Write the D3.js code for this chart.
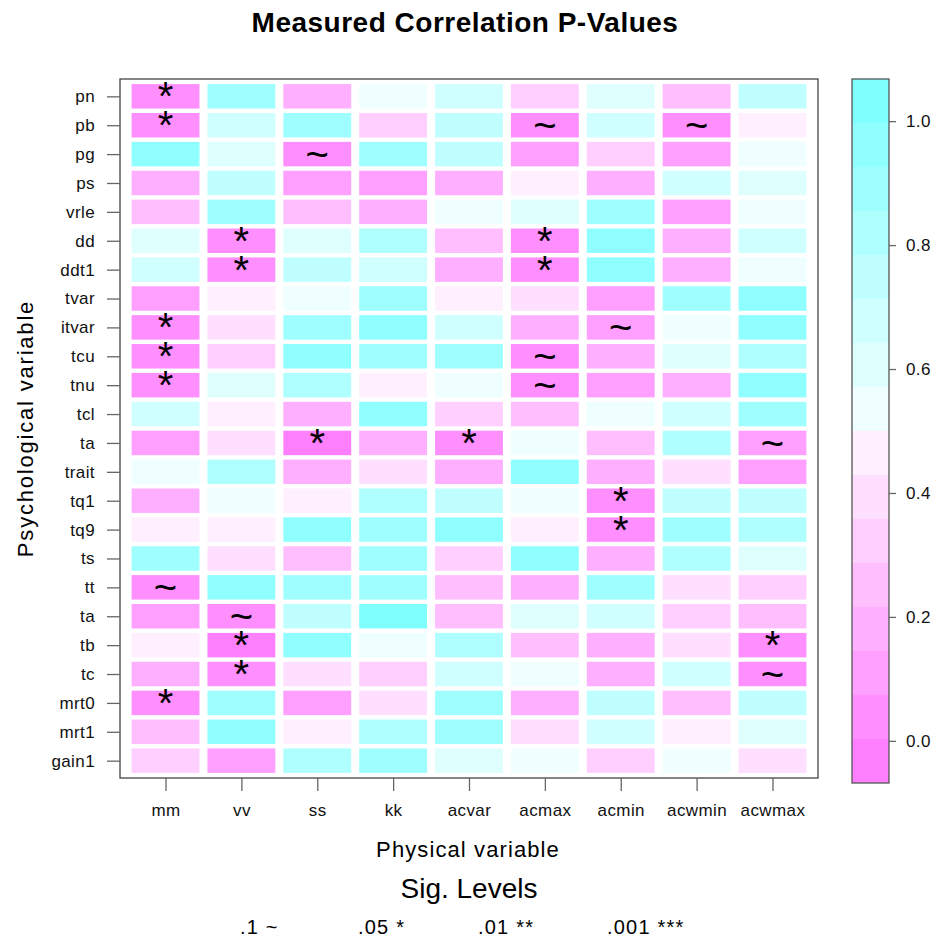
<!DOCTYPE html>
<html>
<head>
<meta charset="utf-8">
<script src="https://cdn.jsdelivr.net/npm/d3@7"></script>
<style>
  body { margin: 0; background: #fff; }
  text { font-family: "Liberation Sans", Arial, Helvetica, sans-serif; }
</style>
</head>
<body>
<svg id="chart" width="937" height="937"></svg>
<script>
// Physical variables (columns) and psychological variables (rows)
const physical = ["mm", "vv", "ss", "kk", "acvar", "acmax", "acmin", "acwmin", "acwmax"];
const psychological = ["pn", "pb", "pg", "ps", "vrle", "dd", "ddt1", "tvar", "itvar", "tcu", "tnu",
  "tcl", "ta", "trait", "tq1", "tq9", "ts", "tt", "ta ", "tb", "tc", "mrt0", "mrt1", "gain1"];

// Correlation p-values, one row per psychological variable, columns in `physical` order
const pValues = [
  [0.021, 0.884, 0.182, 0.541, 0.676, 0.322, 0.603, 0.251, 0.748], // pn
  [0.027, 0.671, 0.893, 0.318, 0.752, 0.061, 0.688, 0.058, 0.468], // pb
  [0.951, 0.598, 0.063, 0.871, 0.741, 0.112, 0.326, 0.105, 0.533], // pg
  [0.178, 0.764, 0.121, 0.109, 0.193, 0.462, 0.171, 0.694, 0.617], // ps
  [0.243, 0.902, 0.259, 0.196, 0.548, 0.611, 0.889, 0.128, 0.529], // vrle
  [0.607, 0.018, 0.592, 0.817, 0.264, 0.023, 0.962, 0.187, 0.682], // dd
  [0.663, 0.016, 0.737, 0.691, 0.174, 0.031, 0.958, 0.201, 0.519], // ddt1
  [0.131, 0.471, 0.552, 0.897, 0.483, 0.392, 0.117, 0.874, 0.944], // tvar
  [0.034, 0.384, 0.879, 0.949, 0.702, 0.168, 0.086, 0.557, 0.976], // itvar
  [0.029, 0.341, 0.971, 0.906, 0.867, 0.066, 0.186, 0.626, 0.829], // tcu
  [0.038, 0.621, 0.838, 0.447, 0.538, 0.069, 0.107, 0.163, 0.967], // tnu
  [0.674, 0.456, 0.191, 0.953, 0.333, 0.248, 0.546, 0.679, 0.912], // tcl
  [0.124, 0.401, 0.001, 0.205, 0.024, 0.562, 0.233, 0.841, 0.083], // ta
  [0.526, 0.823, 0.177, 0.376, 0.189, 0.941, 0.184, 0.413, 0.118], // trait
  [0.169, 0.536, 0.474, 0.811, 0.767, 0.545, 0.037, 0.731, 0.759], // tq1
  [0.488, 0.466, 0.935, 0.881, 0.957, 0.452, 0.041, 0.908, 0.806], // tq9
  [0.894, 0.371, 0.271, 0.868, 0.304, 0.969, 0.157, 0.834, 0.585], // ts
  [0.067, 0.947, 0.916, 0.861, 0.239, 0.181, 0.903, 0.397, 0.311], // tt
  [0.136, 0.064, 0.772, 0.999, 0.227, 0.631, 0.657, 0.349, 0.276], // ta
  [0.477, 0.001, 0.938, 0.566, 0.847, 0.268, 0.152, 0.418, 0.032], // tb
  [0.208, 0.019, 0.387, 0.296, 0.708, 0.514, 0.162, 0.697, 0.059], // tc
  [0.043, 0.876, 0.139, 0.367, 0.919, 0.198, 0.779, 0.282, 0.726], // mrt0
  [0.229, 0.964, 0.441, 0.794, 0.861, 0.423, 0.649, 0.436, 0.639], // mrt1
  [0.352, 0.113, 0.822, 0.887, 0.578, 0.551, 0.312, 0.562, 0.409]  // gain1
];

const colorTicks = [0.0, 0.2, 0.4, 0.6, 0.8, 1.0];
const sigLabels = [".1 ~", ".05 *", ".01 **", ".001 ***"];

// ---- layout -------------------------------------------------------------
const panel = { left: 120, top: 79, right: 818, bottom: 778 };
const key = { left: 852, width: 37, top: 79, bottom: 783 };
const zLimits = [-0.068, 1.068];
const nBands = 16;

const svg = d3.select("#chart");

// Colour bands: magenta (low p) through white to cyan (high p)
const breaks = d3.range(nBands + 1).map(i => zLimits[0] + i * (zLimits[1] - zLimits[0]) / nBands);
const half = nBands / 2;
const palette = d3.range(nBands).map(i => {
  if (i < half) {
    const s = 0.5 - i * (0.5 - 0.5 / half) / (half - 1);
    const c = Math.round(255 * (1 - s));
    return d3.rgb(255, c, 255).formatHex();
  } else {
    const s = 0.5 / half + (i - half) * (0.5 - 0.5 / half) / (half - 1);
    const c = Math.round(255 * (1 - s));
    return d3.rgb(c, 255, 255).formatHex();
  }
});
const color = d3.scaleThreshold().domain(breaks.slice(1, -1)).range(palette);

const x = d3.scalePoint().domain(physical).range([panel.left, panel.right]).padding(0.6);
const y = d3.scalePoint().domain(psychological).range([panel.top, panel.bottom]).padding(0.6);

const cellW = x.step() - 8;
const cellH = y.step() - 4.4;

const cells = [];
psychological.forEach((row, r) => {
  physical.forEach((col, c) => cells.push({ row, col, p: pValues[r][c] }));
});

const sigMark = p => (p < 0.05 ? "*" : p < 0.1 ? "~" : "");

// ---- title --------------------------------------------------------------
svg.append("text")
  .attr("x", 465).attr("y", 32)
  .attr("text-anchor", "middle")
  .attr("font-size", 28).attr("font-weight", "bold")
  .attr("letter-spacing", 0.5)
  .text("Measured Correlation P-Values");

// ---- heat cells -----------------------------------------------------------
const gCells = svg.append("g");
gCells.selectAll("rect").data(cells).join("rect")
  .attr("x", d => x(d.col) - cellW / 2)
  .attr("y", d => y(d.row) - cellH / 2)
  .attr("width", cellW)
  .attr("height", cellH)
  .attr("fill", d => color(d.p));

gCells.selectAll("text").data(cells.filter(d => sigMark(d.p))).join("text")
  .attr("x", d => x(d.col))
  .attr("y", d => y(d.row))
  .attr("text-anchor", "middle")
  .attr("dominant-baseline", "central")
  .attr("font-size", 40)
  .attr("fill", "#000")
  .text(d => sigMark(d.p));

// ---- panel frame & axes ---------------------------------------------------
svg.append("rect")
  .attr("x", panel.left).attr("y", panel.top)
  .attr("width", panel.right - panel.left).attr("height", panel.bottom - panel.top)
  .attr("fill", "none").attr("stroke", "#444").attr("stroke-width", 1.3);

const styleAxis = g => {
  g.select(".domain").remove();
  g.selectAll(".tick line").attr("stroke", "#666").attr("stroke-width", 1.3);
  g.selectAll(".tick text")
    .attr("font-family", "'Liberation Sans', Arial, sans-serif")
    .attr("font-size", 17).attr("letter-spacing", 0.4).attr("fill", "#111");
};

svg.append("g")
  .attr("transform", `translate(${panel.left},0)`)
  .call(d3.axisLeft(y).tickSize(13).tickPadding(12))
  .call(styleAxis);

svg.append("g")
  .attr("transform", `translate(0,${panel.bottom})`)
  .call(d3.axisBottom(x).tickSize(13).tickPadding(13))
  .call(styleAxis);

// axis titles
svg.append("text")
  .attr("x", 468).attr("y", 857)
  .attr("text-anchor", "middle")
  .attr("font-size", 22).attr("letter-spacing", 1.1)
  .text("Physical variable");

svg.append("text")
  .attr("transform", `translate(33,${(panel.top + panel.bottom) / 2}) rotate(-90)`)
  .attr("text-anchor", "middle")
  .attr("font-size", 22).attr("letter-spacing", 1.8)
  .text("Psychological variable");

// ---- colour key -----------------------------------------------------------
const z = d3.scaleLinear().domain(zLimits).range([key.bottom, key.top]);
const gKey = svg.append("g");
gKey.selectAll("rect").data(d3.range(nBands)).join("rect")
  .attr("x", key.left)
  .attr("y", i => z(breaks[i + 1]))
  .attr("width", key.width)
  .attr("height", i => z(breaks[i]) - z(breaks[i + 1]))
  .attr("fill", i => palette[i]);
gKey.append("rect")
  .attr("x", key.left).attr("y", key.top)
  .attr("width", key.width).attr("height", key.bottom - key.top)
  .attr("fill", "none").attr("stroke", "#555").attr("stroke-width", 1.3);

svg.append("g")
  .attr("transform", `translate(${key.left + key.width},0)`)
  .call(d3.axisRight(z).tickValues(colorTicks).tickFormat(d3.format(".1f")).tickSize(7).tickPadding(10))
  .call(styleAxis);

// ---- significance legend ------------------------------------------------
svg.append("text")
  .attr("x", 469).attr("y", 898)
  .attr("text-anchor", "middle")
  .attr("font-size", 28)
  .text("Sig. Levels");

const legendX = [240, 358, 478, 607];
svg.append("g").selectAll("text").data(sigLabels).join("text")
  .attr("x", (d, i) => legendX[i])
  .attr("y", 934)
  .attr("font-size", 20).attr("letter-spacing", 1.2)
  .text(d => d);
</script>
</body>
</html>
